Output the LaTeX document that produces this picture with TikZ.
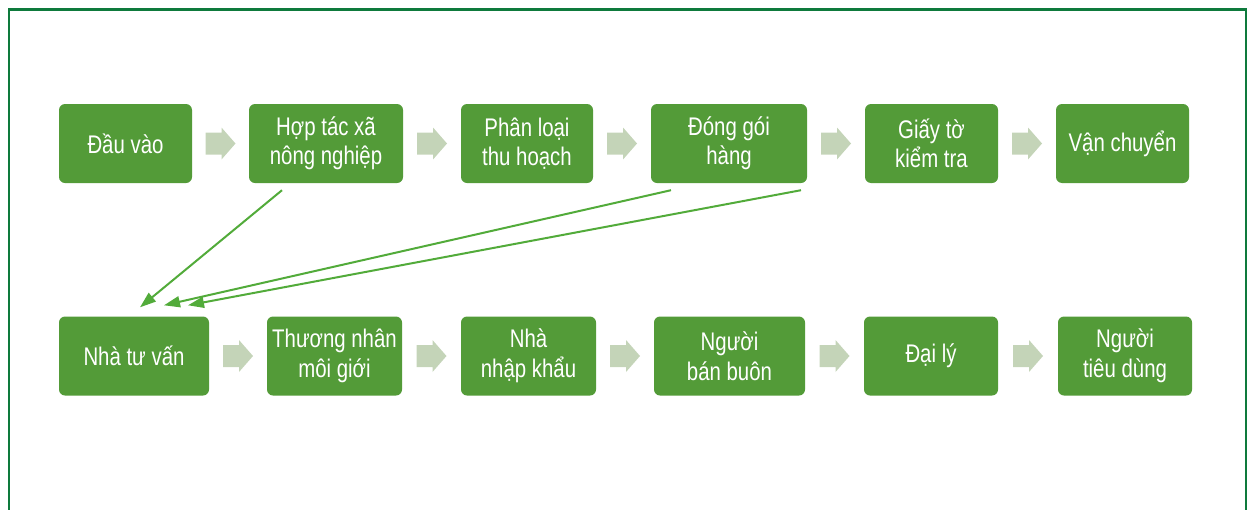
\documentclass[tikz,border=0pt]{standalone}
\usepackage{fontspec}
\setmainfont{Liberation Sans}[FakeStretch=0.8]
\usetikzlibrary{arrows.meta,calc}
\definecolor{boxgreen}{HTML}{539B38}
\definecolor{linkgreen}{HTML}{52AB3A}
\definecolor{chevgreen}{HTML}{C4D4B8}
\definecolor{framegreen}{HTML}{0E7A3C}

\begin{document}
\begin{tikzpicture}[x=1pt,y=-1pt,
    stage/.style={fill=boxgreen,text=white,rounded corners=6pt,align=center,minimum height=79pt,inner sep=2pt,font=\fontsize{25.5}{29.5}\selectfont},
    chev/.pic={\fill[chevgreen] (-15,-11) -- (1,-11) -- (1,-16) -- (15,0) -- (1,16) -- (1,11) -- (-15,11) -- cycle;}]
  \clip (0,0) rectangle (1248,509);
  \draw[framegreen,line width=2.4pt] (9,9.5) rectangle (1246,540);
  % upper chain
  \node[stage,minimum width=133pt] (a1) at (125.5,143.5) {Đầu vào};
  \node[stage,minimum width=154pt] (a2) at (326,143.5) {Hợp tác xã\\nông nghiệp};
  \node[stage,minimum width=132pt] (a3) at (527,143.5) {Phân loại\\thu hoạch};
  \node[stage,minimum width=156pt] (a4) at (729,143.5) {Đóng gói\\hàng};
  \node[stage,minimum width=133pt] (a5) at (931.5,143.5) {Giấy tờ\\kiểm tra};
  \node[stage,minimum width=133pt] (a6) at (1122.5,143.5) {Vận chuyển};
  % lower chain
  \node[stage,minimum width=150pt] (b1) at (134,356) {Nhà tư vấn};
  \node[stage,minimum width=135pt] (b2) at (334.5,356) {Thương nhân\\môi giới};
  \node[stage,minimum width=135pt] (b3) at (528.5,356) {Nhà\\nhập khẩu};
  \node[stage,minimum width=151pt] (b4) at (729.5,356) {Người\\bán buôn};
  \node[stage,minimum width=134pt] (b5) at (931,356) {Đại lý};
  \node[stage,minimum width=134pt] (b6) at (1125,356) {Người\\tiêu dùng};
  \foreach \i/\j in {1/2,2/3,3/4,4/5,5/6} {
    \path ($(a\i.east)!.5!(a\j.west)$) pic{chev};
    \path ($(b\i.east)!.5!(b\j.west)$) pic{chev};
  }
  \scope[every path/.append style={draw=linkgreen,line width=2pt,-{Triangle[length=16pt,width=11pt]}}]
  \path ([xshift=-44pt,yshift=-7pt]a2.south) -- ([xshift=6pt,yshift=9pt]b1.north);
  \path ([xshift=-58pt,yshift=-7pt]a4.south) -- ([xshift=30pt,yshift=11pt]b1.north);
  \path ([xshift=72pt,yshift=-7pt]a4.south) -- ([xshift=54pt,yshift=11pt]b1.north);
  \endscope
\end{tikzpicture}
\end{document}
